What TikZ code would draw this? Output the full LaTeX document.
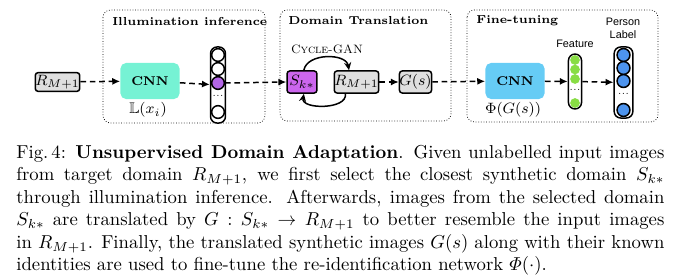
\documentclass[tikz,border=0pt]{standalone}
\usepackage{amsmath}
\usepackage{amssymb}
\usepackage{fontspec}
\usepackage{tikz}
\usepackage{xcolor}
\usetikzlibrary{arrows.meta}

\newfontfamily\labelfont{Liberation Sans}

\definecolor{cnnGreen}{HTML}{76F2D4}
\definecolor{cnnBlue}{HTML}{66CCF5}
\definecolor{domPurple}{HTML}{CC66EE}
\definecolor{vecPurple}{HTML}{B366E6}
\definecolor{vecGreen}{HTML}{88DD44}
\definecolor{vecBlue}{HTML}{4D94EE}

\begin{document}
\begin{tikzpicture}[x=0.535pt,y=-0.535pt,
  stagebox/.style={draw, densely dotted, rounded corners=4pt},
  stagetitle/.style={anchor=west, inner sep=0pt, font=\fontsize{6.2}{7}\selectfont\bfseries},
  dombox/.style={draw, thick, fill=gray!25, rounded corners=1.5pt, inner sep=0pt, minimum height=11.8pt, font=\fontsize{7.9}{8}\selectfont},
  cnnbox/.style={rounded corners=3pt, inner sep=0pt, minimum width=31.6pt, minimum height=19.3pt, font=\fontsize{6.8}{8}\selectfont\bfseries},
  vecbox/.style={draw, thick, rounded corners=3.5pt, inner sep=0pt},
  cellnode/.style={circle, draw, thick, inner sep=0pt},
  mathlabel/.style={inner sep=0pt, font=\fontsize{8.2}{9}\selectfont},
  flowarrow/.style={thick, densely dashed, -{Latex[length=4.2pt,width=3.8pt]}},
  cyclearrow/.style={thick, -{Stealth[length=4.2pt,width=3.8pt]}}
]
\useasboundingbox (0,0) rectangle (676,277);

% three stages
\draw[stagebox] (103,10) rectangle (265,123);
\draw[stagebox] (280,10) rectangle (451,121);
\draw[stagebox] (467,10) rectangle (658,122);
\node[stagetitle] (tIll) at (112,21) {Illumination inference};
\node[stagetitle] (tDom) at (288,21) {Domain Translation};
\node[stagetitle] (tFine) at (476,21) {Fine-tuning};

% illumination inference
\node[dombox, minimum width=22pt, minimum height=10pt] (rIn) at (57.5,82) {$R_{M+1}$};
\node[cnnbox, fill=cnnGreen] (cnnA) at (150,81) {CNN};
\node[mathlabel] (lx) at (148,110) {$\mathbb{L}(x_i)$};
\node[vecbox, minimum width=8pt, minimum height=40.7pt] (ilVec) at (218,85) {};
\node[cellnode, minimum size=6.8pt] (il1) at (218,55) {};
\node[cellnode, minimum size=6.8pt] (il2) at (218,69) {};
\node[cellnode, minimum size=6.8pt, fill=vecPurple] (il3) at (218,83) {};
\node[inner sep=0pt, font=\tiny] (il4) at (218,96) {...};
\node[cellnode, minimum size=6.8pt] (il5) at (218,112) {};

% domain translation
\node[dombox, fill=domPurple, minimum width=16pt] (sk) at (302,82) {$S_{k*}$};
\node[dombox, minimum width=22pt] (rOut) at (356.5,82) {$R_{M+1}$};
\node[dombox, minimum width=14.5pt] (gs) at (415.5,82) {$G(s)$};
\node[inner sep=0pt, font=\fontsize{6.5}{8}\selectfont] (cg) at (327,49) {\textsc{Cycle-GAN}};

% fine-tuning
\node[cnnbox, fill=cnnBlue] (cnnB) at (515,81) {CNN};
\node[mathlabel] (phi) at (513,110) {$\Phi(G(s))$};
\node[vecbox, minimum width=7pt, minimum height=29.4pt] (ftVec) at (575,81.5) {};
\foreach \i/\yy in {1/60,2/69.5,3/79,5/103}
  \node[cellnode, draw=none, fill=vecGreen, minimum size=5.2pt] (ft\i) at (575,\yy) {};
\node[inner sep=0pt, font=\tiny] (ft4) at (575,90) {...};
\node[vecbox, minimum width=10pt, minimum height=38pt] (plVec) at (623.5,82.5) {};
\foreach \i/\yy in {1/55,2/68,3/81,5/110}
  \node[cellnode, fill=vecBlue, minimum size=6.9pt] (pl\i) at (623.5,\yy) {};
\node[inner sep=0pt, font=\tiny] (pl4) at (623.5,94) {...};
\node[inner sep=0pt, font=\labelfont\fontsize{5.8}{6.5}\selectfont] (featLbl) at (575,44) {Feature};
\node[inner sep=0pt, align=center, font=\labelfont\fontsize{5.8}{6}\selectfont] (plLbl) at (623,28) {Person\\[1pt]Label};

% connectors
\draw[flowarrow] (rIn) -- (cnnA);
\draw[flowarrow] (cnnA) -- (ilVec);
\draw[flowarrow] (il3.east) -- (sk.west);
\draw[cyclearrow] ([xshift=1pt]sk.north) to[out=80, in=100] ([xshift=-4pt]rOut.north);
\draw[cyclearrow] ([xshift=-6pt]rOut.south) to[out=-80, in=-100] ([xshift=1pt]sk.south);
\draw[flowarrow] (rOut) -- (gs);
\draw[flowarrow] (gs) -- (cnnB);
\draw[flowarrow] (cnnB) -- (ftVec);
\draw[flowarrow] (ftVec) -- (plVec);

% caption
\node[anchor=north west, inner sep=0pt, text width=346.7pt, align=justify, font=\fontsize{10}{12}\selectfont] (caption) at (16,145)
{Fig.\,4: \textbf{Unsupervised Domain Adaptation}. Given unlabelled input images from target domain $R_{M+1}$, we first select the closest synthetic domain $S_{k*}$ through illumination inference. Afterwards, images from the selected domain $S_{k*}$ are translated by $G: S_{k*}\rightarrow R_{M+1}$ to better resemble the input images\linebreak in $R_{M+1}$. Finally, the translated synthetic images $G(s)$ along with their known identities are used to fine-tune the re-identification network $\varPhi(\cdot)$.};
\end{tikzpicture}
\end{document}
